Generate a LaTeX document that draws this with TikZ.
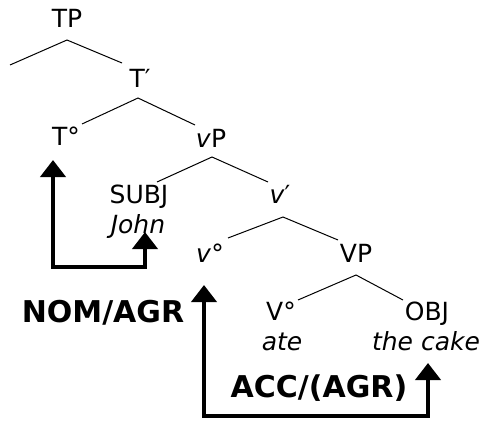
\documentclass[tikz,border=0pt]{standalone}
\usepackage{fontspec}
\setmainfont{DejaVu Sans}
\usetikzlibrary{arrows.meta}
\begin{document}
\begin{tikzpicture}[x=1pt,y=-1pt,
  lab/.style={anchor=base,inner sep=0pt,font=\fontsize{25}{30}\selectfont},
  blab/.style={anchor=base,inner sep=0pt,font=\fontsize{30}{36}\selectfont\bfseries},
  branch/.style={line width=1pt},
  move/.style={line width=4pt,{Triangle[length=17pt,width=25pt]}-{Triangle[length=17pt,width=25pt]}}]
\useasboundingbox (0,0) rectangle (484,420);
% labels
\node[lab] (TP) at (67,28) {TP};
\node[lab] (Tbar) at (140,87) {T′};
\node[lab] (T0) at (66,145) {T°};
\node[lab] (vP) at (211,147) {\textit{v}P};
\node[lab] (SUBJ) at (139,203) {SUBJ};
\node[lab] (John) at (138,233) {\textit{John}};
\node[lab] (vbar) at (280,203) {\textit{v}′};
\node[lab] (v0) at (210,262) {\textit{v}°};
\node[lab] (VP) at (356,262) {VP};
\node[lab] (V0) at (281,320) {V°};
\node[lab] (OBJ) at (427,320) {OBJ};
\node[lab] (ate) at (282,350) {\textit{ate}};
\node[lab] (cake) at (426,350) {\textit{the cake}};
\node[blab] (nom) at (103,322) {NOM/AGR};
\node[blab] (acc) at (319,397) {ACC/(AGR)};
% branch points
\coordinate (aTP) at (67,40);   \coordinate (eTPl) at (10,65);   \coordinate (eTPr) at (122,63);
\coordinate (aTb) at (138,98);  \coordinate (eTbl) at (82,124);  \coordinate (eTbr) at (195,125);
\coordinate (avP) at (212,157); \coordinate (evPl) at (157,182); \coordinate (evPr) at (268,182);
\coordinate (avb) at (283,217); \coordinate (evbl) at (228,238); \coordinate (evbr) at (338,240);
\coordinate (aVP) at (356,275); \coordinate (eVPl) at (298,300); \coordinate (eVPr) at (403,300);
\draw[branch] (eTPl) -- (aTP) -- (eTPr);
\draw[branch] (eTbl) -- (aTb) -- (eTbr);
\draw[branch] (evPl) -- (avP) -- (evPr);
\draw[branch] (evbl) -- (avb) -- (evbr);
\draw[branch] (eVPl) -- (aVP) -- (eVPr);
% movement arrows
\coordinate (tipT0) at (53,160);
\coordinate (tipJohn) at (145,232);
\coordinate (tipv0) at (204,285);
\coordinate (tipcake) at (428,363);
\draw[move] (tipT0) -- (53,267) -| (tipJohn);
\draw[move] (tipv0) -- (204,416) -| (tipcake);
\end{tikzpicture}
\end{document}
